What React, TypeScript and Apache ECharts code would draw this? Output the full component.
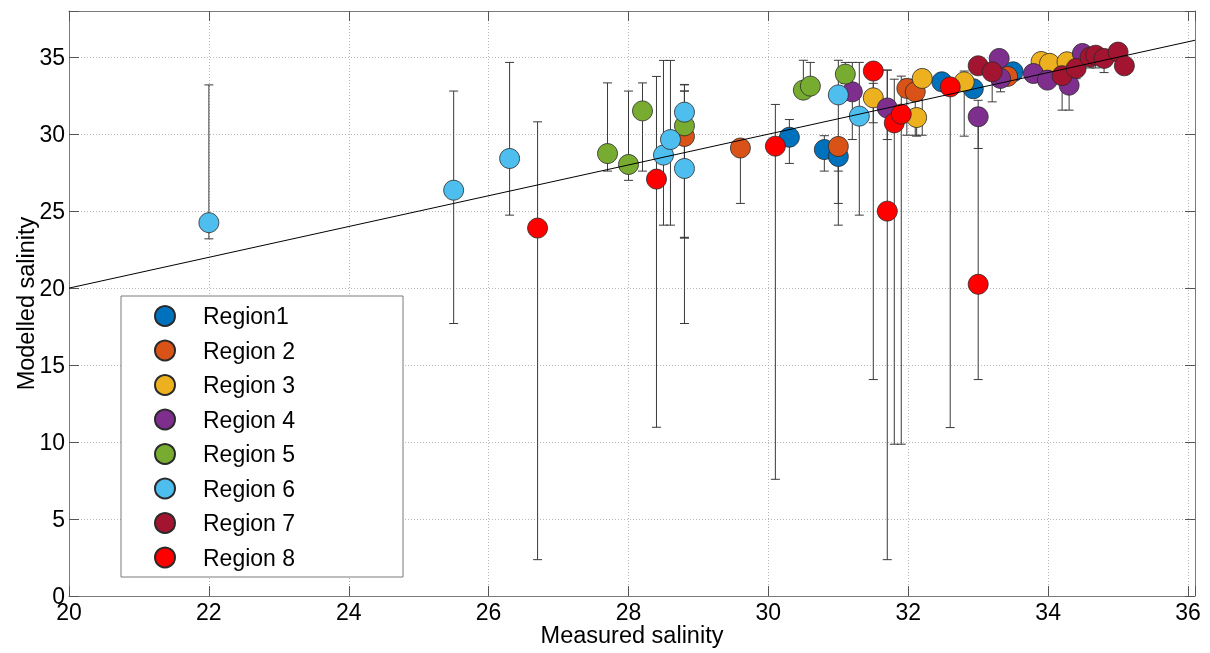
import React, { useEffect, useRef } from "react";
import * as echarts from "echarts";

// Each point: [measured, modelled, lower error bound, upper error bound]
const region1: number[][] = [
  [30.3, 29.8, 28.1, 30.95],
  [30.8, 29.0, 27.6, 29.9],
  [31.0, 28.55, 27.6, 29.3],
  [32.48, 33.4, 33.0, 33.8],
  [32.93, 32.95, 32.4, 33.4],
  [33.5, 34.05, 33.6, 34.5],
];
const region2: number[][] = [
  [28.8, 29.85, 23.3, 33.2],
  [29.6, 29.1, 25.5, 29.5],
  [31.0, 29.2, 25.5, 29.5],
  [31.98, 32.97, 29.93, 33.57],
  [32.1, 32.75, 29.93, 33.57],
  [33.42, 33.75, 33.3, 34.2],
];
const region3: number[][] = [
  [31.5, 32.36, 30.74, 33.3],
  [32.12, 31.08, 29.87, 31.5],
  [32.2, 33.62, 29.93, 34.2],
  [32.8, 33.4, 29.87, 34.1],
  [33.9, 34.72, 34.2, 35.0],
  [34.02, 34.6, 34.1, 35.0],
  [34.27, 34.7, 34.4, 35.0],
];
const region4: number[][] = [
  [31.2, 32.75, 29.65, 34.66],
  [31.7, 31.7, 29.65, 34.16],
  [33.0, 31.13, 29.07, 32.2],
  [33.3, 34.92, 34.3, 35.2],
  [33.32, 33.62, 32.75, 34.0],
  [33.79, 33.94, 33.5, 34.3],
  [33.99, 33.51, 33.3, 34.0],
  [34.3, 33.18, 31.56, 34.0],
  [34.49, 35.24, 34.8, 35.5],
];
const region5: number[][] = [
  [27.7, 28.74, 27.6, 33.33],
  [28.0, 28.03, 27.0, 32.8],
  [28.2, 31.51, 27.6, 33.33],
  [28.8, 30.54, 23.26, 32.8],
  [30.5, 32.86, 32.4, 34.8],
  [30.6, 33.12, 32.6, 34.66],
  [31.1, 33.9, 33.3, 34.66],
];
const region6: number[][] = [
  [22.0, 24.25, 23.2, 33.2],
  [25.5, 26.36, 17.7, 32.8],
  [26.3, 28.42, 24.74, 34.66],
  [28.5, 28.64, 24.09, 34.79],
  [28.6, 29.65, 24.09, 34.79],
  [28.8, 31.43, 17.7, 33.23],
  [28.8, 27.77, 23.26, 32.8],
  [31.0, 32.55, 24.09, 34.8],
  [31.3, 31.17, 24.74, 34.66],
];
const region7: number[][] = [
  [33.0, 34.44, 34.0, 34.8],
  [33.2, 34.05, 32.1, 34.5],
  [34.2, 33.8, 31.56, 34.3],
  [34.4, 34.27, 33.6, 34.6],
  [34.6, 35.0, 34.3, 35.2],
  [34.68, 35.13, 34.3, 35.4],
  [34.8, 34.92, 34.0, 35.1],
  [35.0, 35.33, 34.8, 35.5],
  [35.09, 34.44, 34.0, 34.8],
];
const region8: number[][] = [
  [26.7, 23.9, 2.36, 30.8],
  [28.4, 27.08, 10.96, 33.75],
  [30.1, 29.22, 7.58, 31.93],
  [31.5, 34.1, 14.06, 34.5],
  [31.7, 25.0, 2.36, 34.16],
  [31.8, 30.73, 9.86, 33.57],
  [31.9, 31.3, 9.86, 33.77],
  [32.6, 33.07, 10.94, 33.5],
  [33.0, 20.25, 14.06, 31.5],
];

const regionNames = ["Region1", "Region 2", "Region 3", "Region 4", "Region 5", "Region 6", "Region 7", "Region 8"];
const regionData = [region1, region2, region3, region4, region5, region6, region7, region8];
const regionColors = ["#0072BD", "#D95319", "#EDB120", "#7E2F8E", "#77AC30", "#4DBEEE", "#A2142F", "#FF0000"];

const oneToOneLine = [
  [20, 20],
  [36.1, 36.1],
];

const xMin = 20;
const xMax = 36.1;
const xStep = 2;
const yMin = 0;
const yMax = 38;
const yStep = 5;

const FONT = 'Arial, "Liberation Sans", Helvetica, sans-serif';

export default function App() {
  const ref = useRef<HTMLDivElement>(null);

  useEffect(() => {
    if (!ref.current) return;
    const chart = echarts.init(ref.current, null, { renderer: "svg" });

    const series: any[] = [];
    regionData.forEach((pts, i) => {
      series.push({
        name: regionNames[i],
        type: "scatter",
        symbol: "circle",
        symbolSize: 20,
        data: pts.map((p) => [p[0], p[1]]),
        itemStyle: { color: regionColors[i], borderColor: "#2a2a2a", borderWidth: 0.8, opacity: 1 },
        emphasis: { disabled: true },
      });
      series.push({
        name: regionNames[i] + " error",
        type: "custom",
        data: pts.map((p) => [p[0], p[2], p[3]]),
        encode: { x: 0, y: [1, 2] },
        renderItem: (params: any, api: any) => {
          const x = api.value(0);
          const lo = api.coord([x, api.value(1)]);
          const hi = api.coord([x, api.value(2)]);
          const w = 4.5;
          const st = { stroke: "#3a3a3a", lineWidth: 1 };
          return {
            type: "group",
            children: [
              { type: "line", shape: { x1: lo[0], y1: lo[1], x2: hi[0], y2: hi[1] }, style: st },
              { type: "line", shape: { x1: lo[0] - w, y1: lo[1], x2: lo[0] + w, y2: lo[1] }, style: st },
              { type: "line", shape: { x1: hi[0] - w, y1: hi[1], x2: hi[0] + w, y2: hi[1] }, style: st },
            ],
          };
        },
      });
    });
    series.push({
      name: "1:1",
      type: "line",
      data: oneToOneLine,
      symbol: "none",
      lineStyle: { color: "#000", width: 1 },
      z: 5,
      silent: true,
    });

    const axisLineStyle = { color: "#7a7a7a", width: 1 };
    const tickStyle = { color: "#555", width: 1 };

    chart.setOption({
      animation: false,
      grid: { left: 69, top: 11, width: 1126, height: 585, containLabel: false, outerBoundsMode: "none" },
      xAxis: [
        {
          type: "value",
          min: xMin,
          max: xMax,
          interval: xStep,
          name: "Measured salinity",
          nameLocation: "middle",
          nameGap: 27,
          nameMoveOverlap: false,
          nameTextStyle: { fontSize: 23.5, color: "#000", fontFamily: FONT },
          axisLine: { show: true, onZero: false, lineStyle: axisLineStyle },
          axisTick: { show: true, inside: true, length: 10, lineStyle: tickStyle },
          axisLabel: {
            fontSize: 23,
            color: "#000",
            fontFamily: FONT,
            margin: 4,
            formatter: (v: number) => (Math.abs(v % xStep) < 1e-9 ? String(v) : ""),
          },
          splitLine: { show: true, lineStyle: { color: "#b8b8b8", type: [1, 2], width: 1 } },
        },
        {
          type: "value",
          position: "top",
          min: xMin,
          max: xMax,
          interval: xStep,
          axisLine: { show: true, onZero: false, lineStyle: axisLineStyle },
          axisTick: { show: true, inside: true, length: 10, lineStyle: tickStyle },
          axisLabel: { show: false },
          splitLine: { show: false },
        },
      ],
      yAxis: [
        {
          type: "value",
          min: yMin,
          max: yMax,
          interval: yStep,
          name: "Modelled salinity",
          nameLocation: "middle",
          nameGap: 31,
          nameMoveOverlap: false,
          nameTextStyle: { fontSize: 23.5, color: "#000", fontFamily: FONT },
          axisLine: { show: true, onZero: false, lineStyle: axisLineStyle },
          axisTick: { show: true, inside: true, length: 10, lineStyle: tickStyle },
          axisLabel: {
            fontSize: 23,
            color: "#000",
            fontFamily: FONT,
            margin: 4,
            formatter: (v: number) => (Math.abs(v % yStep) < 1e-9 ? String(v) : ""),
          },
          splitLine: { show: true, lineStyle: { color: "#b8b8b8", type: [1, 2], width: 1 } },
        },
        {
          type: "value",
          position: "right",
          min: yMin,
          max: yMax,
          interval: yStep,
          axisLine: { show: true, onZero: false, lineStyle: axisLineStyle },
          axisTick: { show: true, inside: true, length: 10, lineStyle: tickStyle },
          axisLabel: { show: false },
          splitLine: { show: false },
        },
      ],
      legend: {
        data: regionNames,
        orient: "vertical",
        left: 154,
        top: 304,
        padding: 0,
        itemWidth: 20,
        itemHeight: 20,
        itemGap: 10.5,
        icon: "circle",
        z: 20,
        textStyle: { fontSize: 23, lineHeight: 24, color: "#000", fontFamily: FONT, padding: [0, 0, 0, 23] },
        selectedMode: false,
      },
      graphic: [
        {
          type: "rect",
          z: 15,
          shape: { x: 121, y: 296, width: 282, height: 281 },
          style: { fill: "#fff", stroke: "#7a7a7a", lineWidth: 1 },
        },
      ],
      series,
    });

    return () => chart.dispose();
  }, []);

  return <div ref={ref} style={{ position: "fixed", left: 0, top: 0, width: 1210, height: 653 }} />;
}
